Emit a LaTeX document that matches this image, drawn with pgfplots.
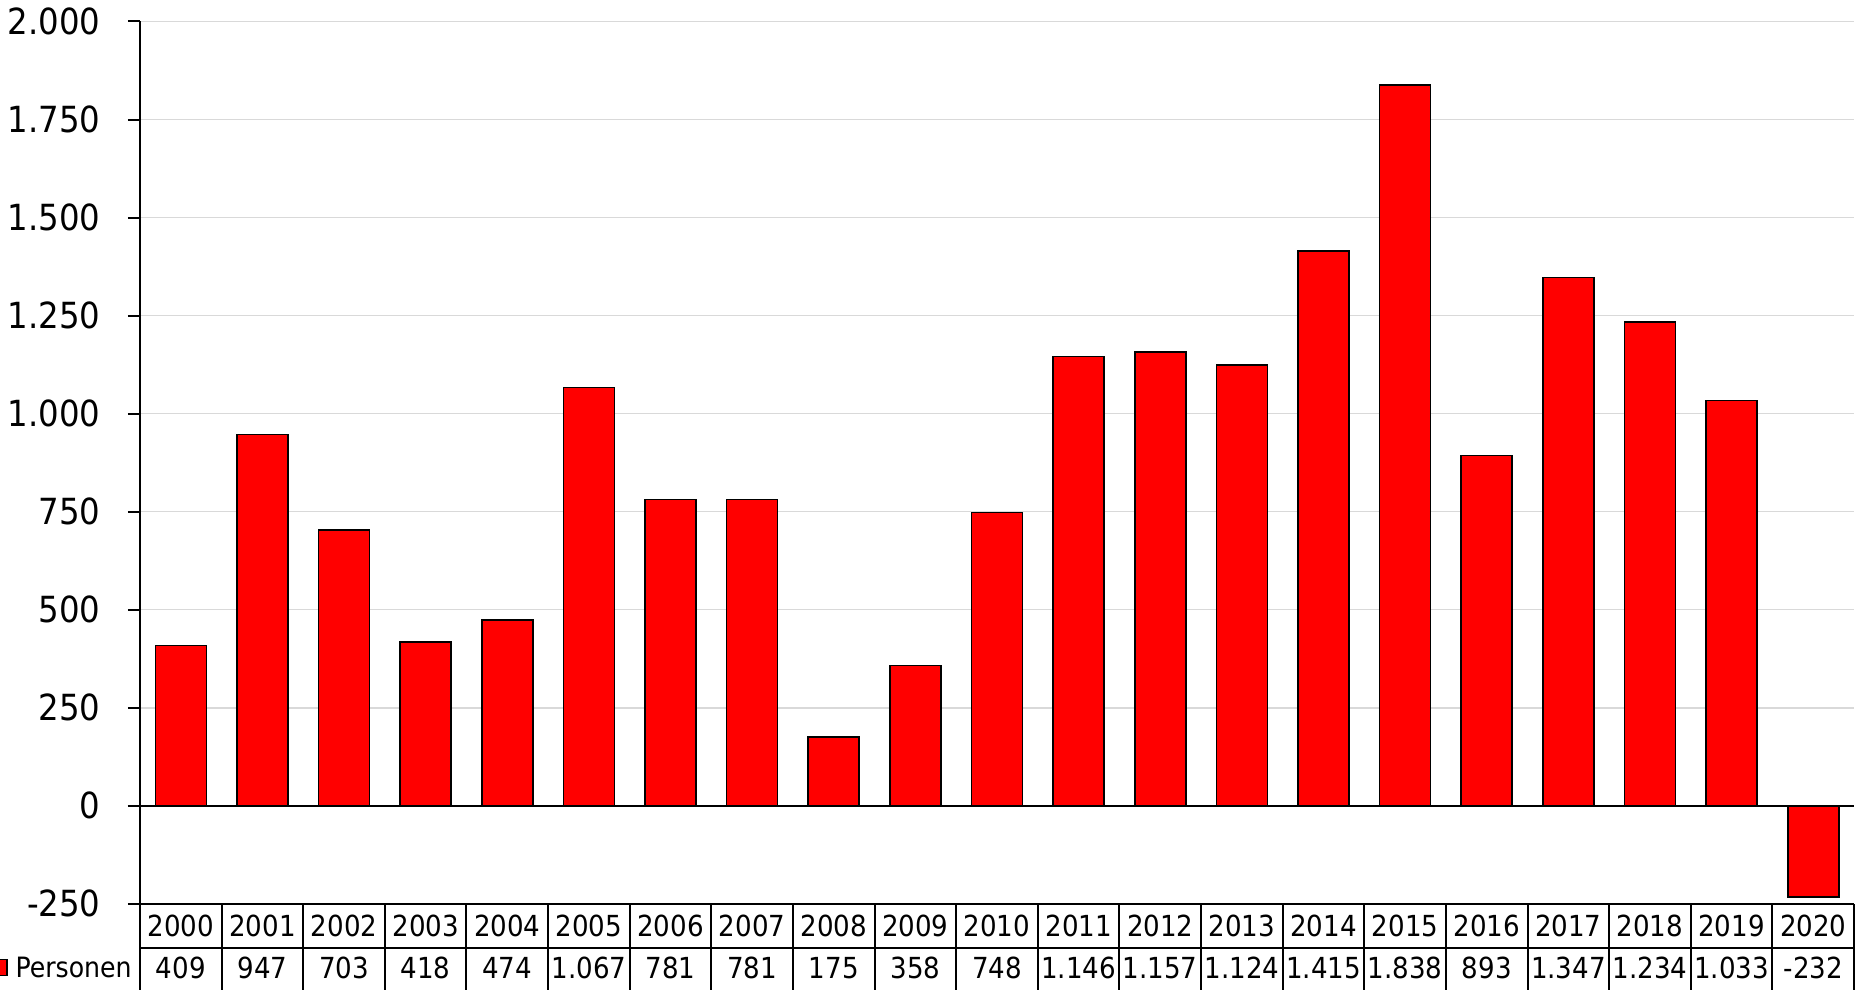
\documentclass[border=0pt]{standalone}
\usepackage{fontspec}
\setmainfont{DejaVu Sans Condensed}
\usepackage{pgfplots}
\usepackage{pgfplotstable}
\pgfplotsset{compat=1.18}
\usetikzlibrary{calc}

\pgfplotstableread{
x year val
0  2000 409
1  2001 947
2  2002 703
3  2003 418
4  2004 474
5  2005 1067
6  2006 781
7  2007 781
8  2008 175
9  2009 358
10 2010 748
11 2011 1146
12 2012 1157
13 2013 1124
14 2014 1415
15 2015 1838
16 2016 893
17 2017 1347
18 2018 1234
19 2019 1033
20 2020 -232
}\datatable

\def\cw{40.8095pt}

\begin{document}
\begin{tikzpicture}[font=\fontsize{14.5}{17}\selectfont]
  \begin{axis}[
      name=ax,
      scale only axis,
      width=857pt,
      height=441.15pt,
      xmin=-0.5, xmax=20.5,
      ymin=-250, ymax=2000,
      axis lines=left,
      axis line style={-, line width=1pt, black},
      xtick=\empty,
      ytick={-250,0,250,500,750,1000,1250,1500,1750,2000},
      ymajorgrids=true,
      grid style={line width=0.8pt, color=gray!30},
      tick align=outside,
      major tick length=6pt,
      tick style={line width=1pt, black},
      yticklabel style={font=\fontsize{18}{21}\selectfont, inner sep=0pt, xshift=-13.5pt},
      /pgf/number format/1000 sep={.},
      /pgf/number format/assume math mode=true,
      extra y ticks={0},
      extra y tick labels={},
      extra y tick style={grid style={black, line width=1pt}},
  ]
    \addplot[ybar, bar width=0.625, fill=red, draw=black, line width=0.8pt]
      table[x=x, y=val] {\datatable};
  \end{axis}

  % data table under the chart
  \draw[line width=1pt] ($(ax.south west)+(0,-22pt)$) -- ($(ax.south east)+(0,-22pt)$);
  \foreach \i in {0,...,21}
    \draw[line width=1pt] ($(ax.south west)+({\i*\cw},0)$) -- ++(0,-46pt);
  \foreach \y/\v [count=\i from 0] in {2000/409, 2001/947, 2002/703, 2003/418,
      2004/474, 2005/1.067, 2006/781, 2007/781, 2008/175, 2009/358, 2010/748,
      2011/1.146, 2012/1.157, 2013/1.124, 2014/1.415, 2015/1.838, 2016/893,
      2017/1.347, 2018/1.234, 2019/1.033, 2020/-232} {
    \node[inner sep=0pt] at ($(ax.south west)+({(\i+0.5)*\cw},-11pt)$) {\y};
    \node[inner sep=0pt] at ($(ax.south west)+({(\i+0.5)*\cw},-32pt)$) {\v};
  }
  \node[inner sep=0pt, anchor=east, font=\fontsize{14}{17}\selectfont]
    at ($(ax.south west)+(-4pt,-32pt)$) {Personen};
  \draw[fill=red, draw=black, line width=0.6pt]
    ($(ax.south west)+(-73.5pt,-28pt)$) rectangle ($(ax.south west)+(-66.5pt,-36pt)$);

  \pgfresetboundingbox
  \path[use as bounding box] ($(ax.south west)+(-70pt,-43pt)$) rectangle ($(ax.north east)+(1.5pt,10.75pt)$);
\end{tikzpicture}
\end{document}
